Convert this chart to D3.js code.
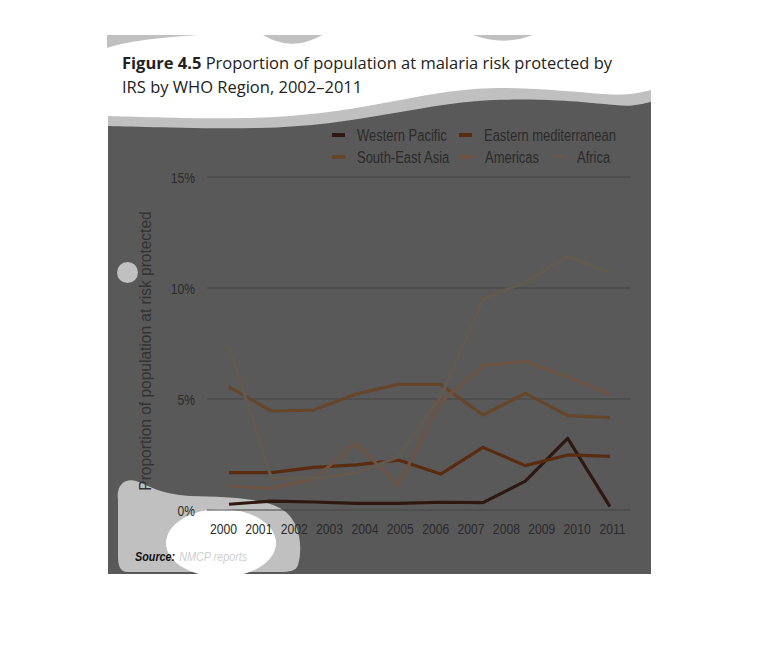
<!DOCTYPE html>
<html>
<head>
<meta charset="utf-8">
<script src="https://cdn.jsdelivr.net/npm/d3@7"></script>
<style>
  body { margin: 0; background: #fff; }
  svg { display: block; }
</style>
</head>
<body>
<div id="chart"></div>
<script>
// ---------- data ----------
var years = [2002, 2003, 2004, 2005, 2006, 2007, 2008, 2009, 2010, 2011];
var axisYears = ["2000", "2001", "2002", "2003", "2004", "2005", "2006", "2007", "2008", "2009", "2010", "2011"];
var yTicks = [0, 5, 10, 15];

var seriesNames = ["Western Pacific", "Eastern mediterranean", "South-East Asia", "Americas", "Africa"];
var westernPacific = [0.26, 0.4, 0.36, 0.3, 0.3, 0.35, 0.33, 1.3, 3.23, 0.15];
var easternMed = [1.68, 1.68, 1.92, 2.03, 2.25, 1.62, 2.82, 2.0, 2.48, 2.42];
var southEastAsia = [5.55, 4.46, 4.5, 5.22, 5.66, 5.66, 4.28, 5.25, 4.25, 4.16];
var americas = [1.08, 0.98, 1.4, 3.0, 1.12, 4.85, 6.5, 6.7, 6.0, 5.2];
var africa = [7.36, 1.44, 1.44, 1.65, 2.4, 5.1, 9.5, 10.26, 11.41, 10.7];
var seriesValues = [westernPacific, easternMed, southEastAsia, americas, africa];
var seriesColors = ["#2f1810", "#5a2c0f", "#66462a", "#6b5443", "#625a4e"];

// ---------- set up ----------
var width = 758, height = 668;
var panelColor = "#595959";
var bandColor = "#c0c0c0";
var textDark = "#2b2b2b";
var sans = "'Liberation Sans', Arial, sans-serif";

var svg = d3.select("#chart").append("svg")
    .attr("width", width)
    .attr("height", height);

// squeeze text horizontally to mimic the condensed face of the original
function condense(sel, k) {
    sel.each(function() {
        var len = this.getComputedTextLength();
        d3.select(this)
            .attr("textLength", len * k)
            .attr("lengthAdjust", "spacingAndGlyphs");
    });
}

var wave = d3.line().curve(d3.curveBasis);

// little grey wedges at the very top
svg.append("path")
    .attr("d", "M107,35 L197,35 C170,37 130,40 107,48 Z")
    .attr("fill", bandColor);
svg.append("path")
    .attr("d", "M263,35 L322,35 C305,45 285,48 263,35 Z")
    .attr("fill", bandColor);
svg.append("path")
    .attr("d", "M473,35 L533,35 C515,42 495,43 473,35 Z")
    .attr("fill", bandColor);

// light grey band above the panel
var bandTop = [[108, 116], [108, 116], [170, 118], [250, 119], [320, 114], [380, 104], [440, 92], [490, 87], [540, 89], [590, 93], [625, 96], [651, 90], [651, 90]];
var panelTop = [[108, 126], [108, 126], [180, 128], [260, 129], [330, 124], [390, 114], [450, 103], [500, 99], [560, 100], [605, 104], [630, 107], [651, 102], [651, 102]];

svg.append("path")
    .attr("d", wave(bandTop) + " L651,200 L108,200 Z")
    .attr("fill", bandColor);
svg.append("path")
    .attr("d", wave(panelTop) + " L651,574 L108,574 Z")
    .attr("fill", panelColor);

// decorative blobs
svg.append("path")
    .attr("d", "M118,500 C116,486 124,478 136,481 C150,486 160,494 190,496 C230,497 268,498 286,512 C302,526 302,552 298,565 C296,571 290,572 280,572 L128,572 C120,572 118,566 118,555 Z")
    .attr("fill", bandColor);
svg.append("ellipse")
    .attr("cx", 221).attr("cy", 543)
    .attr("rx", 55).attr("ry", 34)
    .attr("fill", "#fff");
svg.append("circle")
    .attr("cx", 127.5).attr("cy", 272.5)
    .attr("r", 10.5)
    .attr("fill", bandColor);

// ---------- scales ----------
var xScale = d3.scalePoint().domain(years).range([229, 610]);
var xLabelScale = d3.scalePoint().domain(axisYears).range([223, 612]);
var yScale = d3.scaleLinear().domain([0, 15]).range([510, 177]);

// gridlines
svg.append("g")
    .selectAll("line")
    .data(yTicks)
    .enter()
    .append("line")
    .attr("x1", 207).attr("x2", 630)
    .attr("y1", function(d) { return yScale(d); })
    .attr("y2", function(d) { return yScale(d); })
    .attr("stroke", "#444")
    .attr("stroke-width", 1.2);

// y axis labels
var yAxis = d3.axisLeft(yScale)
    .tickValues(yTicks)
    .tickSize(0)
    .tickPadding(0)
    .tickFormat(function(d) { return d + "%"; });
var yG = svg.append("g")
    .attr("transform", "translate(195,0)")
    .call(yAxis);
yG.select(".domain").remove();
yG.selectAll("text")
    .attr("font-family", sans)
    .attr("font-size", 15.5)
    .attr("fill", textDark)
    .attr("dy", "0.35em")
    .call(condense, 0.78);

// x axis labels
var xAxis = d3.axisBottom(xLabelScale).tickSize(0).tickPadding(0);
var xG = svg.append("g")
    .attr("transform", "translate(0,524)")
    .call(xAxis);
xG.select(".domain").remove();
xG.selectAll("text")
    .attr("font-family", sans)
    .attr("font-size", 14.5)
    .attr("fill", textDark)
    .attr("dy", "0.71em")
    .call(condense, 0.84);

// y axis title
svg.append("text")
    .attr("transform", "translate(151,351)rotate(-90)")
    .attr("text-anchor", "middle")
    .attr("font-family", sans)
    .attr("font-size", 16.5)
    .attr("fill", "#333")
    .text("Proportion of population at risk protected")
    .call(condense, 0.94);

// ---------- lines ----------
var line = d3.line()
    .x(function(d, i) { return xScale(years[i]); })
    .y(function(d) { return yScale(d); });

svg.append("g")
    .selectAll("path")
    .data(seriesValues)
    .enter()
    .append("path")
    .attr("d", function(d) { return line(d); })
    .attr("fill", "none")
    .attr("stroke", function(d, i) { return seriesColors[i]; })
    .attr("stroke-width", 3.2)
    .attr("stroke-linejoin", "round");

// ---------- legend ----------
var legendPos = [[332, 135], [459, 135], [332, 157], [460, 157], [552, 157]];
var legend = svg.append("g")
    .selectAll("g")
    .data(seriesNames)
    .enter()
    .append("g")
    .attr("transform", function(d, i) { return "translate(" + legendPos[i][0] + "," + legendPos[i][1] + ")"; });
legend.append("rect")
    .attr("x", 0).attr("y", -2)
    .attr("width", 13).attr("height", 4)
    .attr("fill", function(d, i) { return seriesColors[i]; });
legend.append("text")
    .attr("x", 25)
    .attr("dy", "0.35em")
    .attr("font-family", sans)
    .attr("font-size", 16)
    .attr("fill", textDark)
    .text(function(d) { return d; })
    .call(condense, 0.81);

// ---------- title ----------
var title = svg.append("text")
    .attr("x", 122).attr("y", 69)
    .attr("font-family", "'Open Sans', sans-serif")
    .attr("font-size", 16.5)
    .attr("fill", "#222");
title.append("tspan").attr("font-weight", "bold").text("Figure 4.5");
title.append("tspan").text(" Proportion of population at malaria risk protected by");
svg.append("text")
    .attr("x", 122).attr("y", 93)
    .attr("font-family", "'Open Sans', sans-serif")
    .attr("font-size", 16.5)
    .attr("fill", "#222")
    .text("IRS by WHO Region, 2002\u20132011");

// ---------- source ----------
// squeezed by a group transform so the two parts keep their true extents
var sourceG = svg.append("g")
    .attr("transform", "translate(135,561) scale(0.8,1)");
var srcLabel = sourceG.append("text")
    .attr("font-family", sans)
    .attr("font-size", 13.5)
    .attr("font-style", "italic")
    .attr("font-weight", "bold")
    .attr("fill", "#111")
    .text("Source:");
sourceG.append("text")
    .attr("x", srcLabel.node().getComputedTextLength() + 5)
    .attr("font-family", sans)
    .attr("font-size", 13.5)
    .attr("font-style", "italic")
    .attr("fill", "#cfcfcf")
    .text("NMCP reports");
</script>
</body>
</html>
